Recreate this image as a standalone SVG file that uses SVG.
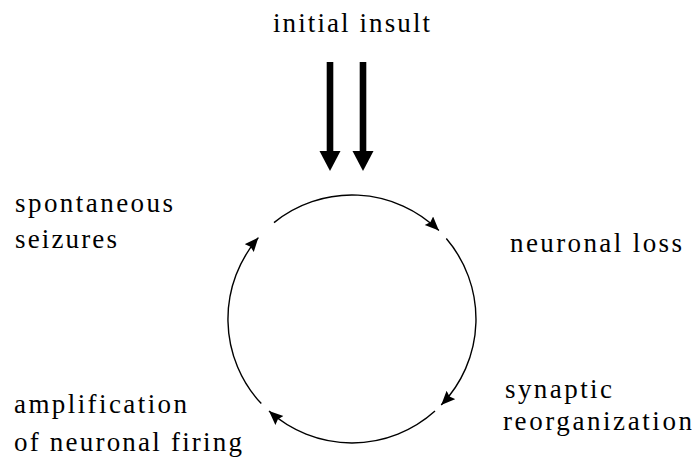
<svg xmlns="http://www.w3.org/2000/svg" width="692" height="463" viewBox="0 0 692 463">
<style>
  .lbl { font-family: "Liberation Serif", "DejaVu Serif", "Times New Roman", Times, serif; font-size: 27px; fill: #000; }
  .arc { fill: none; stroke: #000; stroke-width: 1.4; }
  .big { fill: #000; }
</style>
<defs>
  <marker id="head" markerUnits="userSpaceOnUse" markerWidth="16" markerHeight="14" refX="14" refY="6" orient="auto">
    <path d="M0,0 L14,6 L0,12 L2,6 Z" fill="#000"/>
  </marker>
  <g id="bigArrow">
    <rect x="-3.3" y="0" width="6.6" height="92" class="big"/>
    <polygon points="-10.5,89 10.5,89 0,109" class="big"/>
  </g>
</defs>
<rect width="692" height="463" fill="#fff"/>
<g id="connectors">
  <use href="#bigArrow" x="330" y="62"/>
  <use href="#bigArrow" x="363" y="62"/>
  <path class="arc" d="M274.0,222.6 A124,124 0 0 1 438.9,230.6" marker-end="url(#head)"/>
  <path class="arc" d="M446.3,238.5 A124,124 0 0 1 441.2,405.1" marker-end="url(#head)"/>
  <path class="arc" d="M435.0,411.1 A124,124 0 0 1 269.0,411.1" marker-end="url(#head)"/>
  <path class="arc" d="M261.3,403.6 A124,124 0 0 1 258.4,237.6" marker-end="url(#head)"/>
</g>
<g id="initial-insult"><text class="lbl" x="273" y="32" textLength="157" lengthAdjust="spacing">initial insult</text></g>
<g id="spontaneous-seizures">
  <text class="lbl" x="15" y="212" textLength="158" lengthAdjust="spacing">spontaneous</text>
  <text class="lbl" x="15" y="248" textLength="102" lengthAdjust="spacing">seizures</text>
</g>
<g id="neuronal-loss"><text class="lbl" x="510" y="252" textLength="172" lengthAdjust="spacing">neuronal loss</text></g>
<g id="synaptic-reorganization">
  <text class="lbl" x="505" y="398" textLength="107" lengthAdjust="spacing">synaptic</text>
  <text class="lbl" x="503" y="430" textLength="189" lengthAdjust="spacing">reorganization</text>
</g>
<g id="amplification">
  <text class="lbl" x="14" y="413" textLength="173" lengthAdjust="spacing">amplification</text>
  <text class="lbl" x="14" y="451" textLength="228" lengthAdjust="spacing">of neuronal firing</text>
</g>
</svg>
